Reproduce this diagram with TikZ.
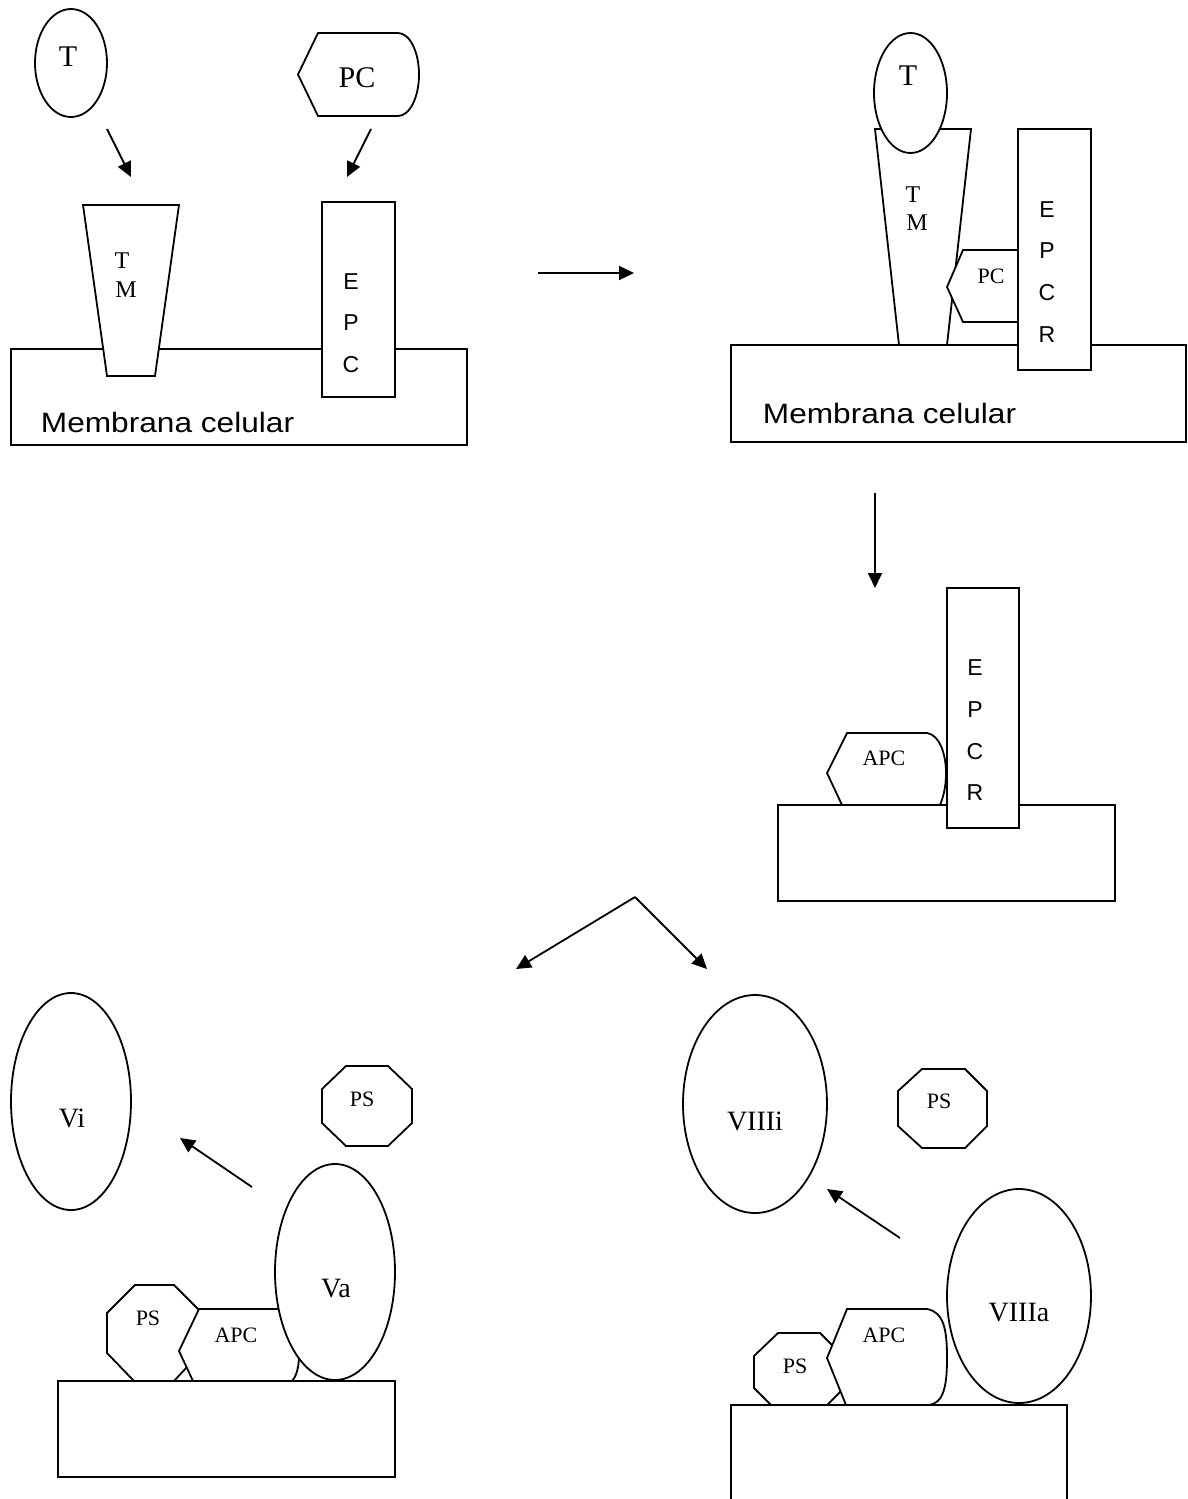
\documentclass[tikz,border=0pt]{standalone}
\usepackage{fontspec}
\setmainfont{Liberation Serif}
\setsansfont{Liberation Sans}
\usetikzlibrary{arrows.meta,shapes.geometric}
\begin{document}
\begin{tikzpicture}[x=1pt,y=-1pt,line width=1.8pt,
  shp/.style={draw,fill=white,line join=miter},
  ell/.style={draw,fill=white,ellipse,inner sep=0pt},
  lbl/.style={inner sep=0pt,anchor=center},
  ser30/.style={lbl,font=\fontsize{30}{36}\selectfont},
  ser28/.style={lbl,font=\fontsize{28}{34}\selectfont},
  ser24/.style={lbl,font=\fontsize{24}{29}\selectfont},
  ser22/.style={lbl,font=\fontsize{22}{27}\selectfont},
  sans28/.style={lbl,font=\sffamily\fontsize{28}{34}\selectfont},
  sans23/.style={lbl,font=\sffamily\fontsize{23}{28}\selectfont},
  arr/.style={-{Triangle[length=15pt,width=14pt]}}]
\useasboundingbox (0,0) rectangle (1187,1499);

% ---------- Panel 1 ----------
\draw[shp] (11,349) rectangle (467,445);
\node[sans28,anchor=west] (mc1) at (40,422) {\scalebox{1.13}[1]{Membrana celular}};
\draw[shp] (83,205) -- (179,205) -- (155,376) -- (107,376) -- cycle;
\node[ser24] (tm1t) at (122,261) {T};
\node[ser24] (tm1m) at (126,290) {M};
\draw[shp] (322,202) rectangle (395,397);
\node[sans23] (epc1e) at (351,282) {E};
\node[sans23] (epc1p) at (351,323) {P};
\node[sans23] (epc1c) at (351,365) {C};
\node[ell,minimum width=72pt,minimum height=108pt] (T1) at (71,63) {};
\node[ser30] (T1l) at (68,57) {T};
\draw[shp] (298,74.5) -- (318,33) -- (398,33)
  .. controls (409.6,33) and (419,51.6) .. (419,74.5)
  .. controls (419,97.4) and (409.6,116) .. (398,116) -- (318,116) -- cycle;
\node[ser30] (PC1l) at (357,78) {PC};
\coordinate (a1s) at (107,129); \coordinate (a1e) at (131,177);
\draw[arr] (a1s) -- (a1e);
\coordinate (a2s) at (371,129); \coordinate (a2e) at (347,177);
\draw[arr] (a2s) -- (a2e);

% arrow panel 1 -> panel 2
\coordinate (a3s) at (538,273); \coordinate (a3e) at (634,273);
\draw[arr] (a3s) -- (a3e);

% ---------- Panel 2 ----------
\draw[shp] (731,345) rectangle (1186,442);
\node[sans28,anchor=west] (mc2) at (762,413) {\scalebox{1.13}[1]{Membrana celular}};
\draw[shp] (875,129) -- (971,129) -- (947,345) -- (899,345) -- cycle;
\node[ser24] (tm2t) at (913,195) {T};
\node[ser24] (tm2m) at (917,223) {M};
\draw[shp] (1030,250) -- (963,250) -- (947,287) -- (963,322) -- (1030,322) -- cycle;
\node[ser22] (PC2l) at (991,276) {PC};
\draw[shp] (1018,129) rectangle (1091,370);
\node[sans23] (epcr2e) at (1047,210) {E};
\node[sans23] (epcr2p) at (1047,251) {P};
\node[sans23] (epcr2c) at (1047,293) {C};
\node[sans23] (epcr2r) at (1047,335) {R};
\node[ell,minimum width=73pt,minimum height=120pt] (T2) at (910.5,93) {};
\node[ser30] (T2l) at (908,76) {T};

% arrow panel 2 -> panel 3
\coordinate (a4s) at (875,493); \coordinate (a4e) at (875,588);
\draw[arr] (a4s) -- (a4e);

% ---------- Panel 3 ----------
\draw[shp] (778,805) rectangle (1115,901);
\draw[shp] (842,805) -- (827,773) -- (847,733) -- (927,733)
  .. controls (940,735) and (946,755) .. (946,773)
  .. controls (946,790) and (942,800) .. (940,805) -- cycle;
\node[ser22] (APC3l) at (884,758) {APC};
\draw[shp] (947,588) rectangle (1019,828);
\node[sans23] (epcr3e) at (975,668) {E};
\node[sans23] (epcr3p) at (975,710) {P};
\node[sans23] (epcr3c) at (975,752) {C};
\node[sans23] (epcr3r) at (975,793) {R};

% fork arrows
\coordinate (fork) at (635,897);
\coordinate (a5e) at (516,969);
\coordinate (a6e) at (707,969);
\draw[arr] (fork) -- (a5e);
\draw[arr] (fork) -- (a6e);

% ---------- Panel 4 ----------
\draw[shp] (58,1381) rectangle (395,1477);
\node[ell,minimum width=120pt,minimum height=217pt] (Vi) at (71,1101.5) {};
\node[ser28] (Vil) at (72,1118) {Vi};
\draw[shp] (346,1066) -- (388,1066) -- (412,1089) -- (412,1123) -- (388,1146) -- (346,1146) -- (322,1123) -- (322,1089) -- cycle;
\node[ser22] (PS4tl) at (362,1099) {PS};
\coordinate (a7s) at (252,1187); \coordinate (a7e) at (180,1138);
\draw[arr] (a7s) -- (a7e);
\draw[shp] (135,1285) -- (174,1285) -- (200,1311) -- (200,1353) -- (174,1381) -- (134,1381) -- (107,1353) -- (107,1313) -- cycle;
\node[ser22] (PS4bl) at (148,1318) {PS};
\draw[shp] (193,1381) -- (179,1351) -- (199,1309) -- (280,1309)
  .. controls (293,1312) and (299,1335) .. (299,1355)
  .. controls (299,1370) and (295,1378) .. (292,1381) -- cycle;
\node[ser22] (APC4l) at (236,1335) {APC};
\node[ell,minimum width=120pt,minimum height=216pt] (Va) at (335,1272) {};
\node[ser28] (Val) at (336,1289) {Va};

% ---------- Panel 5 ----------
\draw[shp] (731,1499) -- (731,1405) -- (1067,1405) -- (1067,1499);
\node[ell,minimum width=144pt,minimum height=218pt] (VIIIi) at (755,1104) {};
\node[ser28] (VIIIil) at (755,1121) {VIIIi};
\draw[shp] (922,1069) -- (965,1069) -- (987,1091) -- (987,1126) -- (965,1148) -- (922,1148) -- (898,1126) -- (898,1091) -- cycle;
\node[ser22] (PS5tl) at (939,1101) {PS};
\coordinate (a8s) at (900,1238); \coordinate (a8e) at (827,1189);
\draw[arr] (a8s) -- (a8e);
\draw[shp] (778,1333) -- (820,1333) -- (844,1357) -- (844,1388) -- (827,1405) -- (771,1405) -- (754,1388) -- (754,1356) -- cycle;
\node[ser22] (PS5bl) at (795,1366) {PS};
\draw[shp] (846,1405) -- (827,1358) -- (847,1309) -- (927,1309)
  .. controls (944,1312) and (947,1330) .. (947,1358)
  .. controls (947,1385) and (944,1404) .. (928,1405) -- cycle;
\node[ser22] (APC5l) at (884,1335) {APC};
\node[ell,minimum width=144pt,minimum height=214pt] (VIIIa) at (1019,1296) {};
\node[ser28] (VIIIal) at (1019,1313) {VIIIa};
\end{tikzpicture}
\end{document}
